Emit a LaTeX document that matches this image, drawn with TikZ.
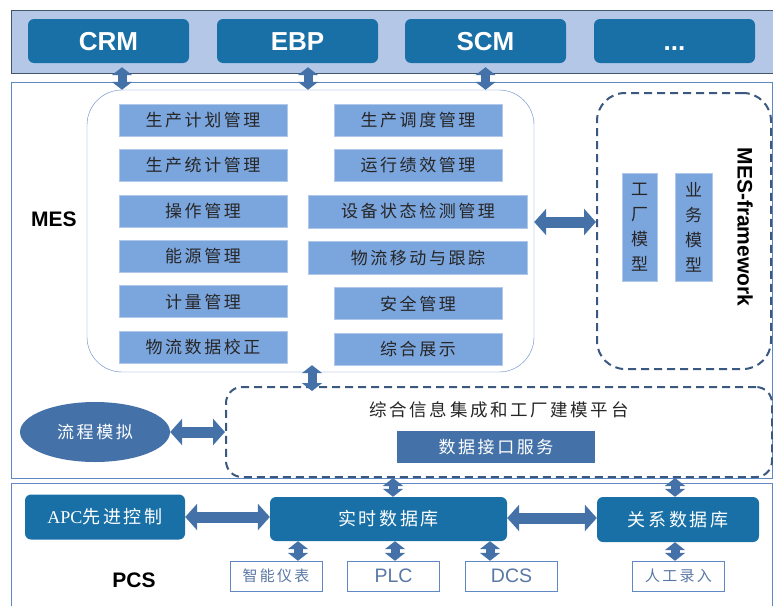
\documentclass[tikz,border=0pt]{standalone}
\usepackage{fontspec}
\setmainfont{Liberation Serif}
\newfontfamily\hei{Liberation Sans}
\newfontfamily\cjk[LetterSpace=15]{Noto Sans CJK SC}
\newfontfamily\cjkv{Noto Sans CJK SC}
\usetikzlibrary{positioning,arrows.meta,shapes.geometric}

\definecolor{bandfill}{RGB}{180,199,231}
\definecolor{bandline}{RGB}{68,84,106}
\definecolor{sysblue}{RGB}{24,112,166}
\definecolor{modblue}{RGB}{123,165,221}
\definecolor{arrowblue}{RGB}{68,114,168}
\definecolor{dashblue}{RGB}{58,88,128}
\definecolor{frameblue}{RGB}{96,136,196}
\definecolor{devtext}{RGB}{90,120,165}

\begin{document}
\begin{tikzpicture}[x=1pt, y=-1pt,
    node distance=13pt,
    sysbox/.style={rounded corners=6pt, fill=sysblue, text=white, inner sep=0pt},
    sysname/.style={sysbox, minimum width=161pt, minimum height=44pt, text height=18.6pt, text depth=0pt, font=\hei\bfseries\fontsize{26}{28}\selectfont},
    dbbox/.style={sysbox, minimum height=45pt, font=\cjk\fontsize{18}{20}\selectfont},
    modbox/.style={fill=modblue, draw=modblue!60, minimum width=168pt, minimum height=32pt, inner sep=0pt, text=black!85, font=\cjk\fontsize{17}{20}\selectfont},
    dashbox/.style={draw=dashblue, line width=2pt, dash pattern=on 8pt off 5pt},
    devbox/.style={draw=frameblue, fill=white, minimum width=92pt, minimum height=30pt, inner sep=0pt, text=devtext, font=\cjk\fontsize{15}{17}\selectfont},
    label/.style={font=\hei\bfseries\fontsize{21}{23}\selectfont},
    barrow/.style={draw=arrowblue, line width=11pt, {Triangle[length=12pt,width=26pt]}-{Triangle[length=12pt,width=26pt]}},
    varrow/.style={draw=arrowblue, line width=9pt, {Triangle[length=8pt,width=20pt]}-{Triangle[length=8pt,width=20pt]}}]
\path[use as bounding box] (0,0) rectangle (773,605);

\draw[bandline, fill=bandfill] (11,10) rectangle (773,73);
\draw[frameblue] (11,82) rectangle (772,478);
\draw[frameblue] (11,606) -- (11,483) -- (772,483) -- (772,606);

\node[sysname] (crm) at (108.5,41) {CRM};
\node[sysname] (ebp) at (297.5,41) {EBP};
\node[sysname] (scm) at (485.5,41) {SCM};
\node[sysname] (more) at (674.5,41) {...};

\node[draw=frameblue, rounded corners=35pt, minimum width=447pt, minimum height=282pt] (mes) at (310.5,231) {};
\node[label] (meslabel) at (54,219) {MES};

\node[modbox] (plan) at (203,120) {生产计划管理};
\node[modbox, below=of plan] (stat) {生产统计管理};
\node[modbox, below=of stat] (oper) {操作管理};
\node[modbox, below=of oper] (energy) {能源管理};
\node[modbox, below=of energy] (meas) {计量管理};
\node[modbox, below=of meas] (reconc) {物流数据校正};

\node[modbox] (sched) at (418,120) {生产调度管理};
\node[modbox, below=of sched] (perf) {运行绩效管理};
\node[modbox, below=of perf, minimum width=219pt, minimum height=33pt] (equip) {设备状态检测管理};
\node[modbox, below=of equip, minimum width=219pt, minimum height=33pt] (track) {物流移动与跟踪};
\node[modbox, below=of track] (safety) {安全管理};
\node[modbox, below=of safety] (display) {综合展示};

\node[dashbox, rounded corners=28pt, minimum width=174pt, minimum height=276pt] (fw) at (684,231) {};
\node[modbox, minimum width=35pt, minimum height=108pt, align=center, font=\cjkv\fontsize{17}{25}\selectfont] (plant) at (639.5,227) {工\\厂\\模\\型};
\node[modbox, minimum width=37pt, minimum height=108pt, align=center, font=\cjkv\fontsize{17}{25}\selectfont] (busi) at (693.5,227) {业\\务\\模\\型};
\node[label, rotate=-90] (fwlabel) at (745,227) {MES-framework};

\node[dashbox, rounded corners=16pt, minimum width=546pt, minimum height=90pt] (plat) at (499,432) {};
\node[text=black!85, font=\cjk\fontsize{17.5}{20}\selectfont] (plattitle) at (499,410) {综合信息集成和工厂建模平台};
\node[fill=arrowblue, text=white, minimum width=198pt, minimum height=32pt, inner sep=0pt, font=\cjk\fontsize{17}{20}\selectfont] (iface) at (496,447) {数据接口服务};
\node[ellipse, fill=arrowblue, text=white, minimum width=150pt, minimum height=60pt, font=\cjk\fontsize{17}{20}\selectfont] (sim) at (95,432) {流程模拟};

\node[dbbox, minimum width=160pt] (apc) at (105,517) {{\rmfamily APC}先进控制};
\node[dbbox, minimum width=237pt, minimum height=44pt] (rtdb) at (388.5,519) {实时数据库};
\node[dbbox, minimum width=162pt] (reldb) at (678,519.5) {关系数据库};

\node[devbox] (meter) at (276,576) {智能仪表};
\node[devbox, font=\hei\fontsize{19.5}{21}\selectfont] (plc) at (393.5,576) {PLC};
\node[devbox, font=\hei\fontsize{19.5}{21}\selectfont] (dcs) at (511.5,576) {DCS};
\node[devbox] (manual) at (678.5,576) {人工录入};
\node[label] (pcslabel) at (134,580) {PCS};

\draw[varrow] ([xshift=13.5pt,yshift=-4pt]crm.south) -- ([xshift=13.5pt]crm.south |- mes.north);
\draw[varrow] ([xshift=10.5pt,yshift=-4pt]ebp.south) -- ([xshift=10.5pt]ebp.south |- mes.north);
\draw[varrow] ([yshift=-4pt]scm.south) -- (scm.south |- mes.north);
\draw[barrow] ([yshift=9pt]mes.east) -- ([yshift=9pt]fw.west);
\draw[varrow] ([xshift=1.5pt,yshift=7pt]mes.south) -- ([xshift=1.5pt,yshift=-5pt]mes.south |- plat.north);
\draw[barrow] (sim.east) -- (plat.west);
\draw[varrow] ([xshift=4.5pt]rtdb.north |- plat.south) -- ([xshift=4.5pt]rtdb.north);
\draw[varrow] ([xshift=-3pt]reldb.north |- plat.south) -- ([xshift=-3pt]reldb.north);
\draw[barrow] (apc.east) -- (apc.east -| rtdb.west);
\draw[barrow] ([yshift=1pt]rtdb.east) -- ([yshift=1pt]rtdb.east -| reldb.west);
\draw[varrow] ([xshift=22pt]meter.north |- rtdb.south) -- ([xshift=22pt]meter.north);
\draw[varrow] ([xshift=1.5pt]plc.north |- rtdb.south) -- ([xshift=1.5pt]plc.north);
\draw[varrow] ([xshift=-21.5pt]dcs.north |- rtdb.south) -- ([xshift=-21.5pt]dcs.north);
\draw[varrow] ([xshift=-3.5pt]manual.north |- reldb.south) -- ([xshift=-3.5pt]manual.north);
\end{tikzpicture}
\end{document}
